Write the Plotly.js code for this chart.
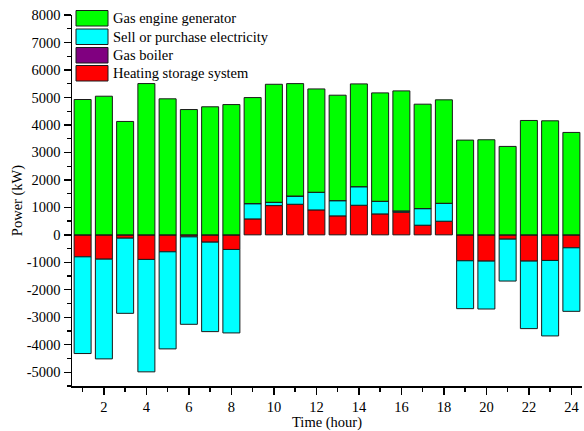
<!DOCTYPE html>
<html>
<head>
<meta charset="utf-8">
<script src="https://cdn.plot.ly/plotly-3.0.1.min.js"></script>
<style>html,body{margin:0;padding:0;background:#fff;}#chart{width:584px;height:431px;}</style>
</head>
<body>
<div id="chart"></div>
<script>
// ---- data ----
const hours = [1,2,3,4,5,6,7,8,9,10,11,12,13,14,15,16,17,18,19,20,21,22,23,24];
const gasEngine = [4925,5045,4127,5505,4950,4560,4660,4740,3858,4294,4090,3760,3836,3739,3944,4368,3799,3764,3448,3460,3218,4162,4150,3727];
const electricity = [-3519,-3629,-2735,-4090,-3533,-3182,-3255,-3037,557,120,300,643,556,677,460,48,605,653,-1742,-1742,-1524,-2456,-2746,-2311];
const gasBoiler = [0,0,0,0,0,0,0,0,0,0,0,0,0,0,0,0,0,0,0,0,0,0,0,0];
const heatingStorage = [-800,-884,-121,-895,-617,-73,-266,-532,580,1065,1113,907,690,1077,762,823,351,496,-944,-956,-157,-956,-932,-472];
const seriesNames = ["Gas engine generator","Sell or purchase electricity","Gas boiler","Heating storage system"];
const seriesColors = ["#00ff00","#00ffff","#800080","#ff0000"];
const yTickVals = [8000,7000,6000,5000,4000,3000,2000,1000,0,-1000,-2000,-3000,-4000,-5000];
const yTickText = ["8000","7000","6000","5000","4000","3000","2000","1000","0","-1000","-2000","-3000","-4000","-5000"];

const FONT = 'Liberation Serif';
const lineStyle = {color:"#1a1a1a", width:1};
function bar(y, i){
  return {type:"bar", x:hours, y:y, name:seriesNames[i], showlegend:false,
    marker:{color:seriesColors[i], line:lineStyle}, hoverinfo:"x+y+name"};
}
// stacking order from zero outward: heating storage, electricity, boiler, gas engine
const data = [bar(heatingStorage,3), bar(electricity,1), bar(gasBoiler,2), bar(gasEngine,0)];

const W=584, H=431, L=72, R=2, T=15, B=45;
const pw=W-L-R, ph=H-T-B;
const px = p => (p-L)/pw;
const py = p => 1-(p-T)/ph;

const shapes=[], annotations=[];
const rowTop=[10.5,29,47.5,65.5], boxH=15.5;
seriesNames.forEach((n,i)=>{
  shapes.push({type:"rect", xref:"paper", yref:"paper",
    x0:px(76), x1:px(108), y0:py(rowTop[i]), y1:py(rowTop[i]+boxH),
    fillcolor:seriesColors[i], line:{color:"#1a1a1a", width:1}});
  annotations.push({xref:"paper", yref:"paper", x:px(111), y:py(rowTop[i]+boxH/2),
    xanchor:"left", yanchor:"middle", showarrow:false, text:n,
    font:{family:FONT, size:14.5, color:"#000"}});
});

const layout = {
  width:W, height:H,
  margin:{l:L, r:R, t:T, b:B, pad:0},
  paper_bgcolor:"#fff", plot_bgcolor:"#fff",
  barmode:"relative", bargap:0.2,
  showlegend:false,
  font:{family:FONT, size:14, color:"#000"},
  xaxis:{range:[0.5,24.5], tickmode:"linear", tick0:0, dtick:2,
    ticks:"outside", ticklen:7, tickwidth:1.3, tickcolor:"#000",
    minor:{tickmode:"linear", tick0:1, dtick:2, ticks:"outside", ticklen:4, tickwidth:1.3, tickcolor:"#000"},
    showline:true, linecolor:"#000", linewidth:1.5, showgrid:false, zeroline:false,
    tickfont:{family:FONT, size:14.5},
    title:{text:"Time (hour)", font:{family:FONT, size:14.5}, standoff:2}},
  yaxis:{range:[-5500,8000], tickmode:"array", tickvals:yTickVals, ticktext:yTickText,
    ticks:"outside", ticklen:7, tickwidth:1.3, tickcolor:"#000",
    minor:{tickmode:"linear", tick0:500, dtick:1000, ticks:"outside", ticklen:4, tickwidth:1.3, tickcolor:"#000"},
    showline:true, linecolor:"#000", linewidth:1.5, showgrid:false, zeroline:false,
    tickfont:{family:FONT, size:14.5},
    title:{text:"Power (kW)", font:{family:FONT, size:14.5}, standoff:0}},
  shapes:shapes, annotations:annotations
};
Plotly.newPlot("chart", data, layout, {displayModeBar:false, staticPlot:true});
</script>
</body>
</html>
